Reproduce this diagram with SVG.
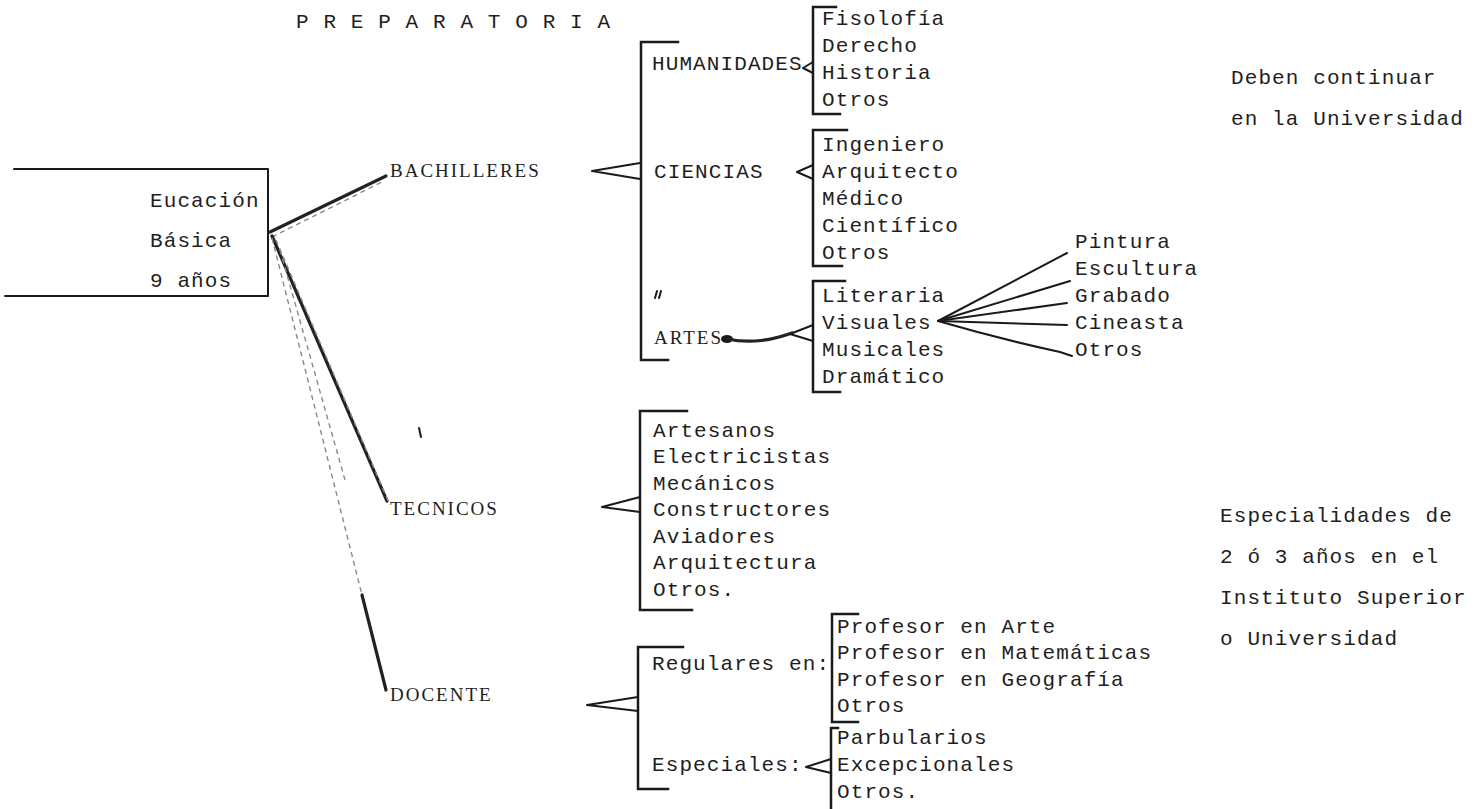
<svg xmlns="http://www.w3.org/2000/svg" width="1479" height="809" viewBox="0 0 1479 809">
<style>
.t{font-family:"Liberation Mono","Courier New",monospace;font-size:21px;letter-spacing:1.1px;fill:#1e1e1e}
.s{font-family:"Liberation Serif","Times New Roman",serif;font-size:19px;letter-spacing:2px;fill:#1e1e1e}
.br{stroke:#1a1a1a;stroke-width:2.5;fill:none;stroke-linecap:square}
.ln{stroke:#1a1a1a;stroke-width:2;fill:none;stroke-linecap:round;stroke-linejoin:round}
.thick{stroke:#222;stroke-width:3.2;fill:none;stroke-linecap:round}
.faint{stroke:#8a8a8a;stroke-width:1.4;fill:none;stroke-dasharray:5 4}
</style>
<rect width="1479" height="809" fill="#ffffff"/>

<g id="title"><text class="t" x="296" y="28">P R E P A R A T O R I A</text></g>

<g id="basica">
<path class="ln" d="M14,169 L268,169 L268,296 L5,296" stroke-width="1.6"/>
<text class="t" x="150" y="207">Eucación</text>
<text class="t" x="150" y="247">Básica</text>
<text class="t" x="150" y="287">9 años</text>
</g>

<g id="connectors">
<path class="thick" d="M270,232 L386,176"/>
<path class="faint" d="M272,237 L384,181"/>
<path class="thick" d="M272,236 L387,501"/>
<path class="faint" d="M276,240 L389,503"/>
<path class="faint" d="M272,238 L386,690"/>
<path class="faint" d="M280,250 L345,480"/>
<path class="thick" d="M362,595 L386,690" stroke-width="3.6"/>
<path class="ln" d="M640,163 L592,171 L640,179" stroke-width="2.4"/>
<path class="ln" d="M640,497 L602,507 L640,512"/>
<path class="ln" d="M638,697 L587,705 L638,711" stroke-width="2.6"/>
<path class="ln" d="M813,62 L803,68 L813,73"/>
<path class="ln" d="M813,165 L797,172 L813,179"/>
<ellipse cx="727" cy="339" rx="6" ry="4" fill="#1a1a1a"/>
<path class="thick" d="M727,339 C752,344 772,340 792,333"/>
<path class="ln" d="M813,325 L790,334 L813,341"/>
<path class="ln" d="M831,759 L806,767 L831,773"/>
<path class="ln" d="M938,321 L1067,253" stroke-width="1.7"/>
<path class="ln" d="M938,321 L1070,281" stroke-width="2.3"/>
<path class="ln" d="M938,321 L1067,303" stroke-width="1.8"/>
<path class="ln" d="M938,321 L1067,325" stroke-width="1.2"/>
<path class="ln" d="M938,321 Q1000,339 1060,352 L1072,356" stroke-width="2.4"/>
</g>

<g id="marks">
<path class="ln" d="M655,298 L657,291 M659,298 L661,291" stroke-width="1"/>
<path class="ln" d="M419,428 L421,437" stroke-width="1.6"/>
</g>

<g id="bachilleres">
<text class="s" x="390" y="177">BACHILLERES</text>
<path class="br" d="M678,42 L641,42 L641,360 L668,360"/>
</g>

<g id="humanidades">
<text class="t" x="652" y="70">HUMANIDADES</text>
<path class="br" d="M836,7 L813,7 L813,114 L840,114"/>
<text class="t" x="822" y="25">Fisolofía</text>
<text class="t" x="822" y="52">Derecho</text>
<text class="t" x="822" y="79">Historia</text>
<text class="t" x="822" y="106">Otros</text>
</g>

<g id="ciencias">
<text class="t" x="654" y="178">CIENCIAS</text>
<path class="br" d="M847,130 L813,130 L813,266 L842,266"/>
<text class="t" x="822" y="151">Ingeniero</text>
<text class="t" x="822" y="178">Arquitecto</text>
<text class="t" x="822" y="205">Médico</text>
<text class="t" x="822" y="232">Científico</text>
<text class="t" x="822" y="259">Otros</text>
</g>

<g id="artes">
<text class="s" x="654" y="344">ARTES</text>
<path class="br" d="M845,281 L813,281 L813,392 L840,392"/>
<text class="t" x="822" y="302">Literaria</text>
<text class="t" x="822" y="329">Visuales</text>
<text class="t" x="822" y="356">Musicales</text>
<text class="t" x="822" y="383">Dramático</text>
</g>

<g id="visuales">
<text class="t" x="1075" y="248">Pintura</text>
<text class="t" x="1075" y="275">Escultura</text>
<text class="t" x="1075" y="302">Grabado</text>
<text class="t" x="1075" y="329">Cineasta</text>
<text class="t" x="1075" y="356">Otros</text>
</g>

<g id="tecnicos">
<text class="s" x="390" y="515">TECNICOS</text>
<path class="br" d="M687,411 L640,411 L640,610 L692,610"/>
<text class="t" x="653" y="437">Artesanos</text>
<text class="t" x="653" y="463">Electricistas</text>
<text class="t" x="653" y="490">Mecánicos</text>
<text class="t" x="653" y="516">Constructores</text>
<text class="t" x="653" y="543">Aviadores</text>
<text class="t" x="653" y="569">Arquitectura</text>
<text class="t" x="653" y="596">Otros.</text>
</g>

<g id="docente">
<text class="s" x="390" y="701">DOCENTE</text>
<path class="br" d="M683,647 L638,647 L638,789 L668,789"/>
</g>

<g id="regulares">
<text class="t" x="652" y="670">Regulares en:</text>
<path class="br" d="M858,614 L832,614 L832,722 L858,722"/>
<text class="t" x="837" y="633">Profesor en Arte</text>
<text class="t" x="837" y="659">Profesor en Matemáticas</text>
<text class="t" x="837" y="686">Profesor en Geografía</text>
<text class="t" x="837" y="712">Otros</text>
</g>

<g id="especiales">
<text class="t" x="652" y="771">Especiales:</text>
<path class="br" d="M838,728 L831,728 L831,809"/>
<text class="t" x="837" y="744">Parbularios</text>
<text class="t" x="837" y="771">Excepcionales</text>
<text class="t" x="837" y="798">Otros.</text>
</g>

<g id="notes">
<text class="t" x="1231" y="84">Deben continuar</text>
<text class="t" x="1231" y="125">en la Universidad</text>
<text class="t" x="1220" y="522">Especialidades de</text>
<text class="t" x="1220" y="563">2 ó 3 años en el</text>
<text class="t" x="1220" y="604">Instituto Superior</text>
<text class="t" x="1220" y="645">o Universidad</text>
</g>
</svg>
